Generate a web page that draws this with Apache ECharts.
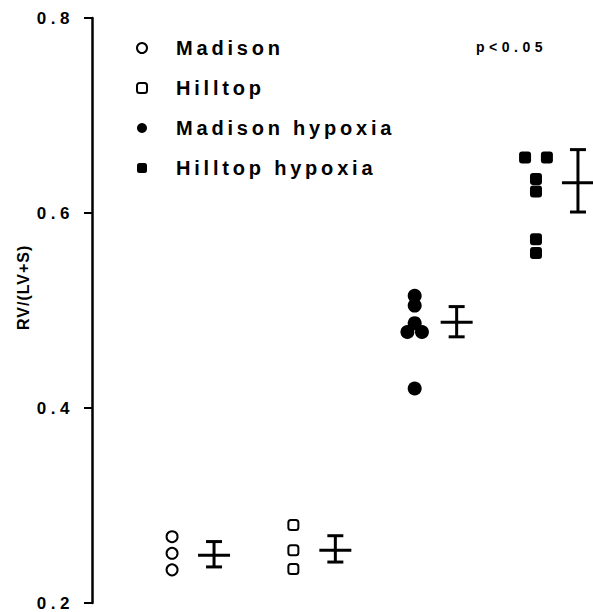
<!DOCTYPE html>
<html>
<head>
<meta charset="utf-8">
<script src="https://cdn.jsdelivr.net/npm/echarts@6/dist/echarts.min.js"></script>
<style>
  html, body { margin: 0; padding: 0; background: #fff; }
  #main { width: 593px; height: 612px; }
  /* the original lettering is very wide, spread it out */
  #main text[style*="20px"] { letter-spacing: 3.8px; }
  #main text[style*="17px"] { letter-spacing: 4.5px; }
  #main text[style*="14px"] { letter-spacing: 4.5px; }
  #main text[style*="16px"] { letter-spacing: 1px; }
</style>
</head>
<body>
<div id="main"></div>
<script>
// groups along the x axis
const groups = ['Madison', 'Hilltop', 'Madison hypoxia', 'Hilltop hypoxia'];

// RV/(LV+S) for each animal
const madison = [0.268, 0.251, 0.234];
const hilltop = [0.280, 0.254, 0.235];
const madisonHypoxia = [0.515, 0.505, 0.487, 0.478, 0.478, 0.420];
const hilltopHypoxia = [0.657, 0.657, 0.635, 0.622, 0.573, 0.559];

// side offsets of points that sit next to each other
const madisonJitter = [0, 0, 0];
const hilltopJitter = [0, 0, 0];
const madisonHypoxiaJitter = [0, 0, 0, -0.06, 0.06, 0];
const hilltopHypoxiaJitter = [-0.09, 0.09, 0, 0, 0, 0];

// mean and error bar ends
const means = [0.249, 0.254, 0.488, 0.631];
const lower = [0.237, 0.242, 0.473, 0.601];
const upper = [0.263, 0.269, 0.504, 0.665];

const yTicks = [0.2, 0.4, 0.6, 0.8];

const FONT = '"Liberation Sans", Arial, sans-serif';

function pts(vals, jit, g) {
  return vals.map(function (v, i) { return [g + 1 + jit[i], v]; });
}

const meanData = means.map(function (m, i) {
  return [i + 1 + 0.346, m, lower[i], upper[i]];
});

const chart = echarts.init(document.getElementById('main'), null, { renderer: 'svg' });

var option = {
  animation: false,
  backgroundColor: '#fff',
  grid: { left: 92, right: 0, top: 18, bottom: 9 },
  legend: {
    orient: 'vertical',
    left: 131,
    top: 33,
    itemWidth: 10,
    itemHeight: 10,
    itemGap: 20,
    data: groups,
    textStyle: {
      fontFamily: FONT,
      fontSize: 20,
      fontWeight: 'bold',
      color: '#000',
      padding: [0, 0, 0, 24]
    }
  },
  xAxis: {
    type: 'value',
    min: 0.34,
    max: 4.47,
    show: false
  },
  yAxis: {
    type: 'value',
    min: 0.2,
    max: 0.8,
    interval: 0.2,
    axisLine: { show: true, lineStyle: { color: '#000', width: 2.5 } },
    axisTick: { show: true, length: 8, lineStyle: { color: '#000', width: 2 } },
    splitLine: { show: false },
    axisLabel: {
      margin: 18,
      fontFamily: FONT,
      fontSize: 17,
      fontWeight: 'bold',
      color: '#000',
      formatter: function (v) {
        var t = yTicks.find(function (k) { return Math.abs(k - v) < 1e-6; });
        return t === undefined ? '' : t.toFixed(1);
      }
    }
  },
  graphic: [{
    type: 'text',
    left: 476,
    top: 40,
    style: { text: 'p<0.05', font: 'bold 14px ' + FONT, fill: '#000' }
  }, {
    // axis title, rotated like the original
    type: 'text',
    x: 15,
    y: 330,
    rotation: Math.PI / 2,
    style: { text: 'RV/(LV+S)', font: 'bold 16px ' + FONT, fill: '#000', align: 'left', verticalAlign: 'top' }
  }],
  series: [
    {
      name: groups[0],
      type: 'scatter',
      symbol: 'circle',
      symbolSize: 11,
      itemStyle: { color: '#fff', borderColor: '#000', borderWidth: 2, opacity: 1 },
      data: pts(madison, madisonJitter, 0)
    },
    {
      name: groups[1],
      type: 'scatter',
      symbol: 'roundRect',
      symbolSize: 10,
      itemStyle: { color: '#fff', borderColor: '#000', borderWidth: 2, opacity: 1 },
      data: pts(hilltop, hilltopJitter, 1)
    },
    {
      name: groups[2],
      type: 'scatter',
      symbol: 'circle',
      symbolSize: 14,
      itemStyle: { color: '#000', opacity: 1 },
      data: pts(madisonHypoxia, madisonHypoxiaJitter, 2)
    },
    {
      name: groups[3],
      type: 'scatter',
      symbol: 'roundRect',
      symbolSize: 12,
      itemStyle: { color: '#000', opacity: 1 },
      data: pts(hilltopHypoxia, hilltopHypoxiaJitter, 3)
    },
    {
      name: 'mean',
      type: 'custom',
      silent: true,
      renderItem: function (params, api) {
        var pm = api.coord([api.value(0), api.value(1)]);
        var pl = api.coord([api.value(0), api.value(2)]);
        var ph = api.coord([api.value(0), api.value(3)]);
        var st = { stroke: '#000', lineWidth: 3 };
        return {
          type: 'group',
          children: [
            { type: 'line', shape: { x1: pm[0] - 16, y1: pm[1], x2: pm[0] + 16, y2: pm[1] }, style: st },
            { type: 'line', shape: { x1: pm[0], y1: pl[1], x2: pm[0], y2: ph[1] }, style: st },
            { type: 'line', shape: { x1: pm[0] - 8, y1: pl[1], x2: pm[0] + 8, y2: pl[1] }, style: st },
            { type: 'line', shape: { x1: pm[0] - 8, y1: ph[1], x2: pm[0] + 8, y2: ph[1] }, style: st }
          ]
        };
      },
      data: meanData,
      z: 3
    }
  ]
};
chart.setOption(option);
</script>
</body>
</html>
